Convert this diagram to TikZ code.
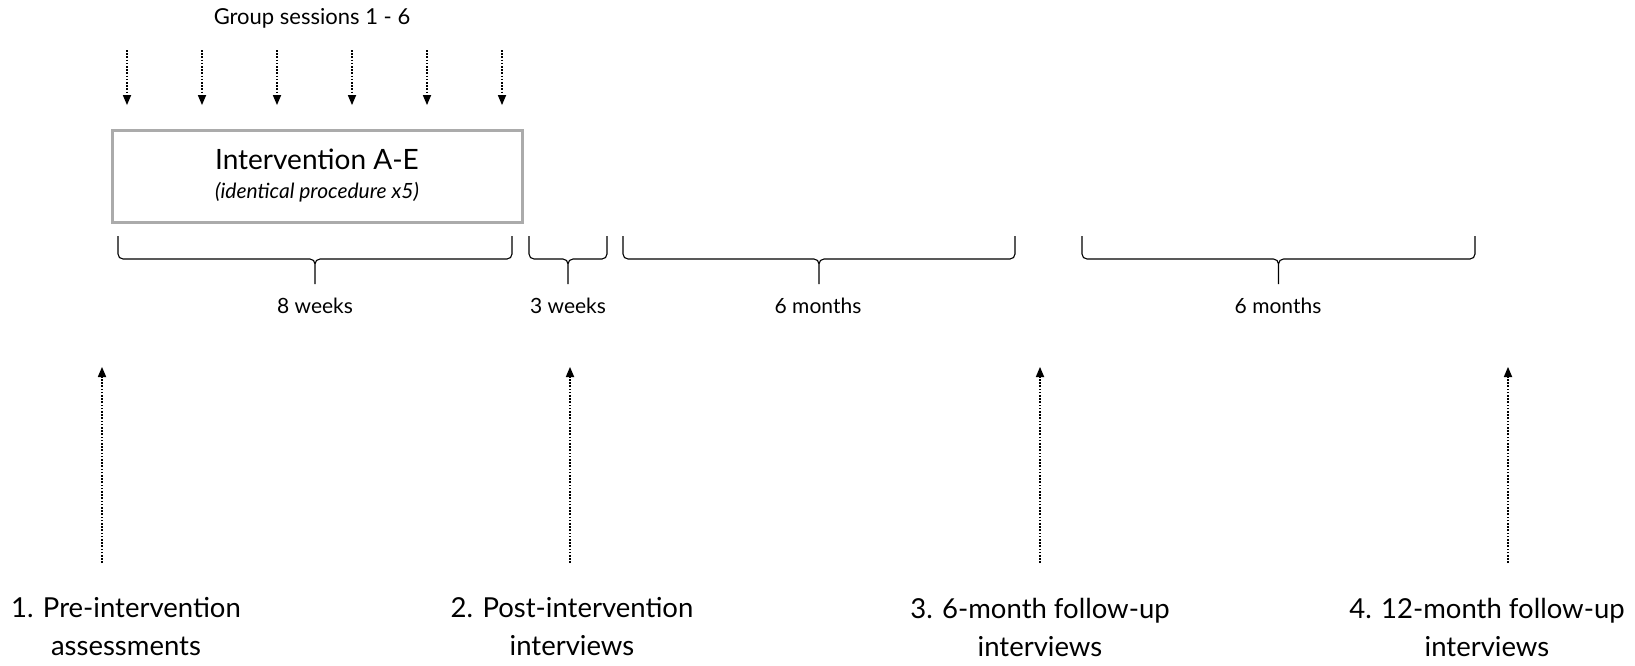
\documentclass[tikz,border=0pt]{standalone}
\usepackage{fontspec}
\setmainfont{Lato}
\usetikzlibrary{%
  arrows.meta,%
  positioning,%
  calc%
}

% curly span under the timeline: left x, right x
\newcommand{\spanbrace}[2]{%
  \pgfmathsetmacro{\bm}{(#1+#2)/2}
  \draw[bracestyle] (#1,-236) -- (#1,-254) arc[start angle=180,end angle=270,radius=5]
    -- (\bm-5,-259) arc[start angle=90,end angle=0,radius=5] -- (\bm,-284)
    (\bm,-264) arc[start angle=180,end angle=90,radius=5] -- (#2-5,-259)
    arc[start angle=270,end angle=360,radius=5] -- (#2,-236);
}

\begin{document}
\begin{tikzpicture}
  [
  x=1pt, y=1pt,
  dotarrow/.style={line width=1.8pt, dash pattern=on 1.6pt off 1.6pt,
    -{Triangle[length=10pt,width=8.5pt,line width=0pt]}},
  bracestyle/.style={line width=1.1pt},
  spantext/.style={font=\fontsize{21}{24}\selectfont},
  stage/.style={align=center, font=\fontsize{27.5}{38}\selectfont},
  ]
  \useasboundingbox (0,0) rectangle (1635,-665);

  % group sessions
  \node[font=\fontsize{22}{26}\selectfont] (grp) at (312,-18) {Group sessions 1 - 6};
  \foreach \i in {0,...,5} {
    \coordinate (sTop\i) at (127+75*\i,-50);
    \coordinate (sBot\i) at (127+75*\i,-105);
    \draw[dotarrow] (sTop\i) -- (sBot\i);
  }

  \node[draw=black!33, line width=3pt, minimum width=410pt, minimum height=92pt,
    align=center, font=\fontsize{28}{30}\selectfont] (box) at (317,-176)
    {Intervention A-E\\[-1pt]{\fontsize{21}{24}\selectfont\itshape (identical procedure x5)}};

  % spans
  \spanbrace{118}{512}
  \spanbrace{529}{607}
  \spanbrace{623}{1015}
  \spanbrace{1082}{1475}
  \node[spantext] (w8) at (315,-306) {8 weeks};
  \node[spantext] (w3) at (568,-306) {3 weeks};
  \node[spantext] (m6a) at (818,-306) {6 months};
  \node[spantext] (m6b) at (1278,-306) {6 months};

  % assessment points
  \coordinate (tPre) at (102,-367);   \coordinate (bPre) at (102,-563);
  \coordinate (tPost) at (570,-367);  \coordinate (bPost) at (570,-563);
  \coordinate (tSix) at (1040,-367);  \coordinate (bSix) at (1040,-563);
  \coordinate (tTwelve) at (1508,-367); \coordinate (bTwelve) at (1508,-563);
  \draw[dotarrow] (bPre) -- (tPre);
  \draw[dotarrow] (bPost) -- (tPost);
  \draw[dotarrow] (bSix) -- (tSix);
  \draw[dotarrow] (bTwelve) -- (tTwelve);

  \node[stage] (pre) at (126,-627) {1. Pre-intervention\\assessments};
  \node[stage] (post) at (572,-627) {2. Post-intervention\\interviews};
  \node[stage] (six) at (1040,-627) {3. 6-month follow-up\\interviews};
  \node[stage] (twelve) at (1487,-627) {4. 12-month follow-up\\interviews};
\end{tikzpicture}
\end{document}
